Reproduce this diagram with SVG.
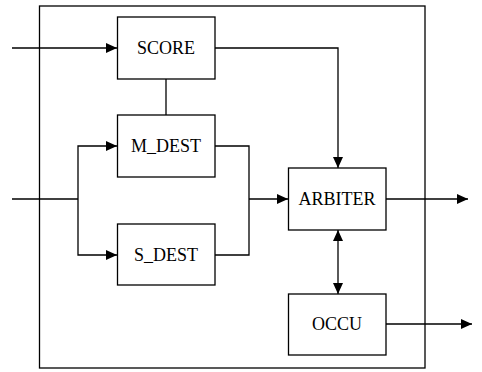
<svg xmlns="http://www.w3.org/2000/svg" width="482" height="372" viewBox="0 0 482 372">
<defs>
<marker id="ah" markerWidth="12" markerHeight="12" refX="11" refY="5" orient="auto" markerUnits="userSpaceOnUse">
<path d="M0,0 L11,5 L0,10 Z" fill="#000"/>
</marker>
<marker id="ahs" markerWidth="12" markerHeight="12" refX="0" refY="5" orient="auto" markerUnits="userSpaceOnUse">
<path d="M11,0 L0,5 L11,10 Z" fill="#000"/>
</marker>
<style>
.box{fill:#fff;stroke:#000;stroke-width:1.3}
.frame{fill:none;stroke:#000;stroke-width:1.3}
.ln{fill:none;stroke:#000;stroke-width:1.3}
text{font-family:'Times New Roman','Liberation Serif',serif;font-size:18px;fill:#000;text-anchor:middle}
</style>
</defs>
<rect width="482" height="372" fill="#fff"/>
<rect class="frame" x="39.5" y="6" width="385.5" height="362"/>
<g id="connectors">
<path class="ln" d="M12,48 H117" marker-end="url(#ah)"/>
<path class="ln" d="M215,48 H338 V168" marker-end="url(#ah)"/>
<path class="ln" d="M166,79 V115"/>
<path class="ln" d="M12,199 H78"/>
<path class="ln" d="M78,199 V146 H117" marker-end="url(#ah)"/>
<path class="ln" d="M78,199 V255 H117" marker-end="url(#ah)"/>
<path class="ln" d="M215,146 H249 V255 H215"/>
<path class="ln" d="M249,199 H288" marker-end="url(#ah)"/>
<path class="ln" d="M386,199 H468" marker-end="url(#ah)"/>
<path class="ln" d="M338,230 V294" marker-start="url(#ahs)" marker-end="url(#ah)"/>
<path class="ln" d="M386,324 H472" marker-end="url(#ah)"/>
</g>
<g id="score"><rect class="box" x="117.5" y="17" width="97.5" height="62"/><text x="166" y="54">SCORE</text></g>
<g id="m_dest"><rect class="box" x="117.5" y="115" width="97.5" height="62"/><text x="166" y="152">M_DEST</text></g>
<g id="s_dest"><rect class="box" x="117.5" y="224" width="97.5" height="61"/><text x="166" y="261">S_DEST</text></g>
<g id="arbiter"><rect class="box" x="288.5" y="168" width="97.5" height="62"/><text x="337" y="205">ARBITER</text></g>
<g id="occu"><rect class="box" x="288.5" y="294" width="97.5" height="61"/><text x="337" y="330">OCCU</text></g>
</svg>
